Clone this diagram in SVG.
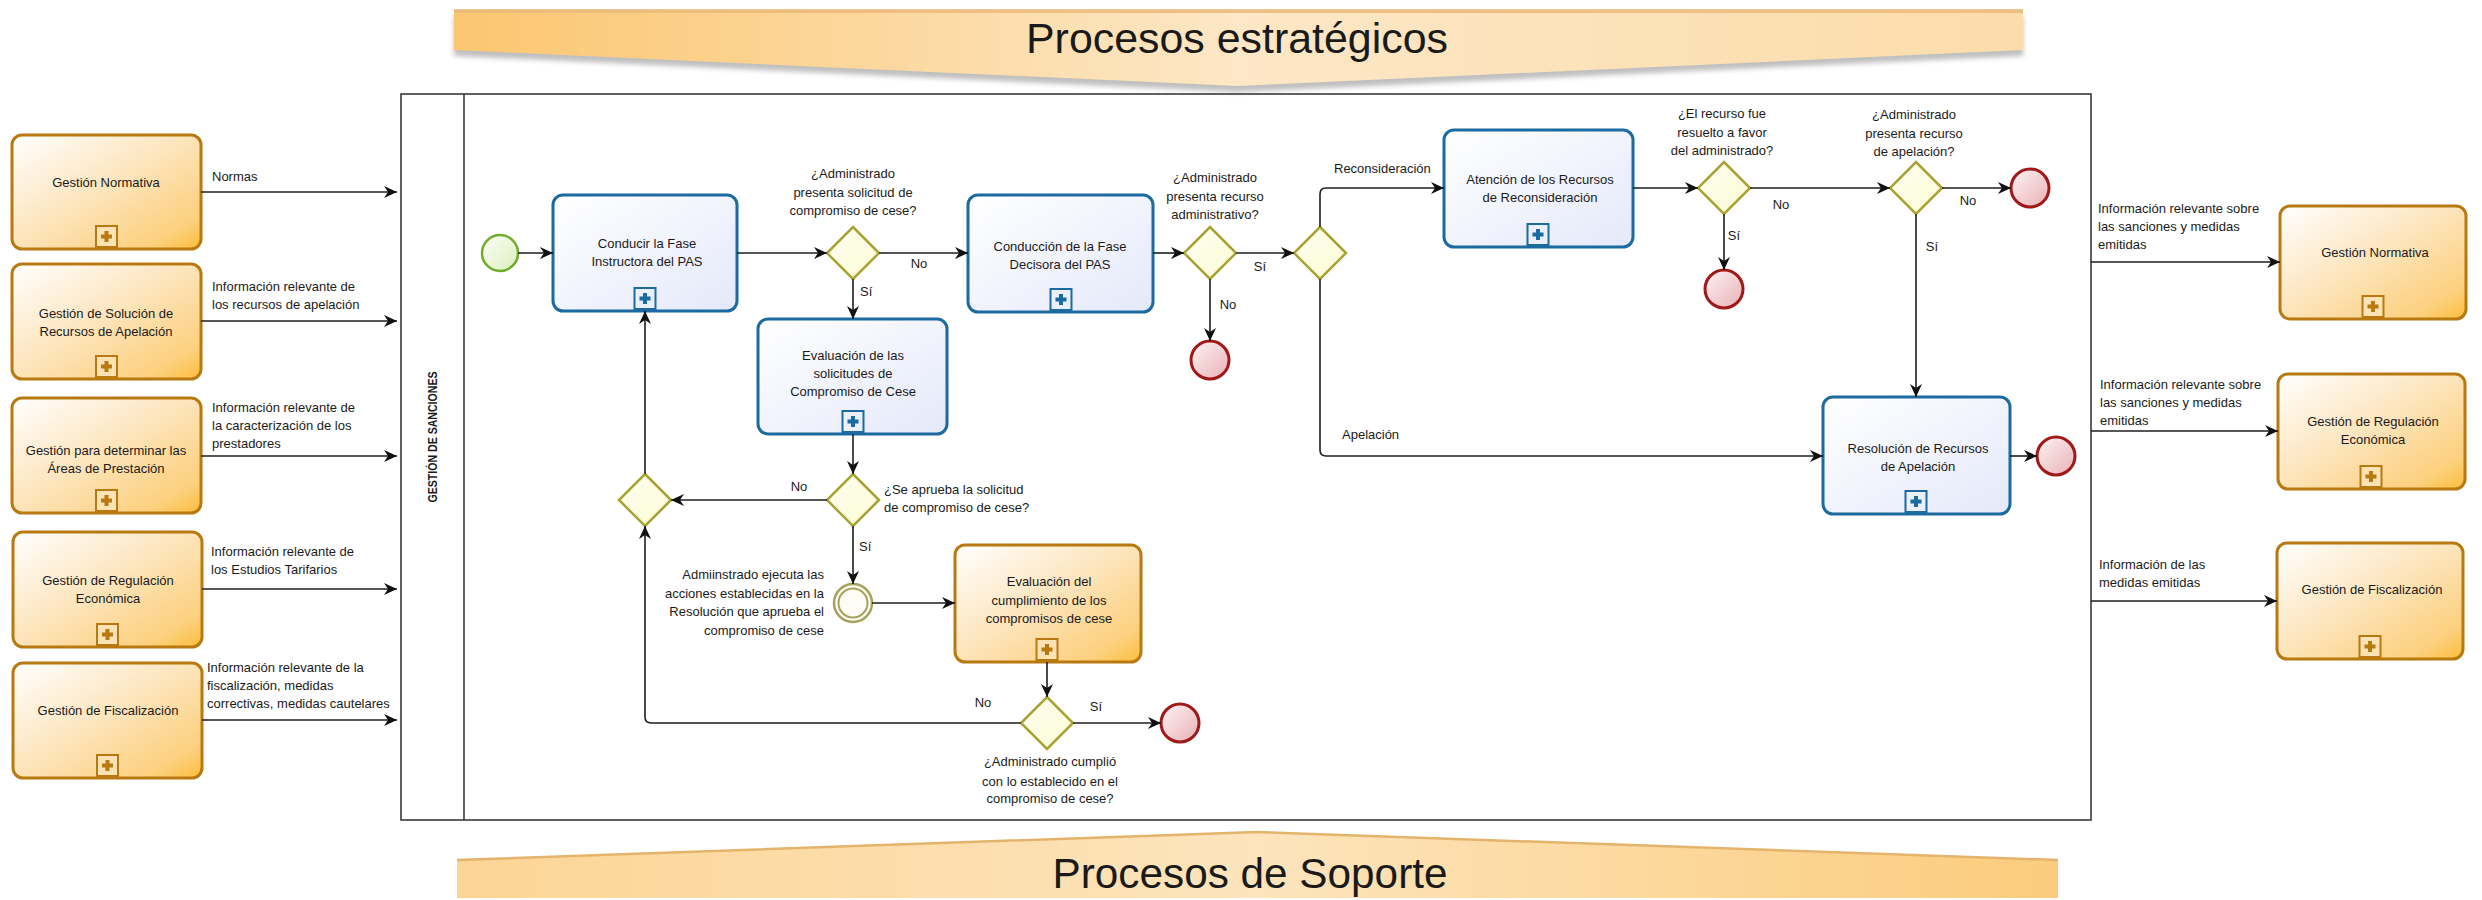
<svg xmlns="http://www.w3.org/2000/svg" width="2482" height="900" viewBox="0 0 2482 900">
<style>
.t{font-family:"Liberation Sans",Arial,sans-serif;font-size:13px;fill:#1a1a1a}
.c{text-anchor:middle}
.r{text-anchor:end}
.ban{font-family:"Liberation Sans",Arial,sans-serif;font-size:42px;fill:#1a1a1a;text-anchor:middle}
.conn{fill:none;stroke:#1e1e1e;stroke-width:1.6;marker-end:url(#arr)}
.to{fill:url(#gO);stroke:#b87a10;stroke-width:3}
.tb{fill:url(#gB);stroke:#1b6aa0;stroke-width:3}
.gw{fill:url(#gG);stroke:#a8a332;stroke-width:2.5}
.ee{fill:url(#gE);stroke:#a01818;stroke-width:3}
.pool{fill:none;stroke:#3a3a3a;stroke-width:1.6}
</style>
<defs>
<marker id="arr" markerUnits="userSpaceOnUse" markerWidth="14" markerHeight="14" refX="13" refY="7" orient="auto">
<path d="M0,1 L13,7 L0,13 L4,7 z" fill="#111"/>
</marker>
<linearGradient id="gO" x1="0" y1="0" x2="1" y2="1">
<stop offset="0" stop-color="#ffffff"/><stop offset="0.45" stop-color="#fde6c0"/><stop offset="0.85" stop-color="#fcd07e"/><stop offset="1" stop-color="#fbbd3a"/>
</linearGradient>
<linearGradient id="gB" x1="0" y1="0" x2="1" y2="1">
<stop offset="0" stop-color="#ffffff"/><stop offset="1" stop-color="#e4e9fa"/>
</linearGradient>
<linearGradient id="gG" x1="0" y1="0" x2="1" y2="1">
<stop offset="0" stop-color="#fefef2"/><stop offset="1" stop-color="#fbfbd4"/>
</linearGradient>
<linearGradient id="gE" x1="0" y1="0" x2="1" y2="1">
<stop offset="0" stop-color="#fdf4f4"/><stop offset="1" stop-color="#e8b0b6"/>
</linearGradient>
<linearGradient id="gS" x1="0" y1="0" x2="1" y2="1">
<stop offset="0" stop-color="#fbfef2"/><stop offset="1" stop-color="#dcefc0"/>
</linearGradient>
<linearGradient id="gBan1" x1="0" y1="0" x2="1" y2="0">
<stop offset="0" stop-color="#fbc670"/><stop offset="0.5" stop-color="#fde7c6"/><stop offset="1" stop-color="#fcdcaa"/>
</linearGradient>
<linearGradient id="gBan2" x1="0" y1="0" x2="1" y2="0">
<stop offset="0" stop-color="#fcd596"/><stop offset="0.5" stop-color="#fde4bc"/><stop offset="1" stop-color="#fbcc7c"/>
</linearGradient>
<filter id="blur" x="-5%" y="-50%" width="110%" height="200%"><feGaussianBlur stdDeviation="2.5"/></filter>
<g id="pO"><rect x="-10.5" y="-21" width="21" height="21" fill="#fde3b4" stroke="#b87a10" stroke-width="2"/><path d="M-5.5,-10.5H5.5M0,-16V-5" stroke="#b87a10" stroke-width="4"/></g>
<g id="pB"><rect x="-10.5" y="-21" width="21" height="21" fill="#e9effb" stroke="#1b6aa0" stroke-width="2"/><path d="M-5.5,-10.5H5.5M0,-16V-5" stroke="#1b6aa0" stroke-width="4"/></g>
</defs>

<rect width="2482" height="900" fill="#ffffff"/>

<g id="banner-top">
<polygon points="454,16 2023,16 2023,56 1238,92 454,56" fill="#8a8a8a" opacity="0.55" filter="url(#blur)"/>
<polygon points="454,10 2023,10 2023,50 1238,86 454,50" fill="url(#gBan1)"/>
<rect x="454" y="9" width="1569" height="4" fill="#e8b878" opacity="0.8"/>
<text class="ban" x="1237" y="53" textLength="422" lengthAdjust="spacingAndGlyphs">Procesos estratégicos</text>
</g>

<g id="banner-bottom">
<polygon points="457,860 1257,832 2058,860 2058,898 457,898" fill="url(#gBan2)"/>
<path d="M457,860 L1257,832 L2058,860" fill="none" stroke="#e4b46c" stroke-width="2.5"/>
<text class="ban" x="1250" y="888" textLength="395" lengthAdjust="spacingAndGlyphs">Procesos de Soporte</text>
</g>

<g id="pool">
<rect class="pool" x="401" y="94" width="1690" height="726"/>
<line class="pool" x1="464" y1="94" x2="464" y2="820"/>
<text transform="translate(437,437) rotate(-90)" text-anchor="middle" font-family="Liberation Sans,Arial,sans-serif" font-size="12" font-weight="bold" fill="#1a1a1a" textLength="131" lengthAdjust="spacingAndGlyphs">GESTIÓN DE SANCIONES</text>
</g>

<g id="left-gestion-normativa">
<rect class="to" x="12" y="135" width="189" height="114" rx="10"/>
<use href="#pO" x="106.5" y="247"/>
<text class="t c" x="106" y="187">Gestión Normativa</text>
</g>
<g id="left-gestion-apelacion">
<rect class="to" x="12" y="264" width="189" height="115" rx="10"/>
<use href="#pO" x="106.5" y="377"/>
<text class="t c" x="106" y="318">Gestión de Solución de</text>
<text class="t c" x="106" y="336">Recursos de Apelación</text>
</g>
<g id="left-gestion-areas">
<rect class="to" x="12" y="398" width="189" height="115" rx="10"/>
<use href="#pO" x="106.5" y="511"/>
<text class="t c" x="106" y="455">Gestión para determinar las</text>
<text class="t c" x="106" y="473">Áreas de Prestación</text>
</g>
<g id="left-gestion-regulacion">
<rect class="to" x="13" y="532" width="189" height="115" rx="10"/>
<use href="#pO" x="107.5" y="645"/>
<text class="t c" x="108" y="585">Gestión de Regulación</text>
<text class="t c" x="108" y="603">Económica</text>
</g>
<g id="left-gestion-fiscalizacion">
<rect class="to" x="13" y="663" width="189" height="115" rx="10"/>
<use href="#pO" x="107.5" y="776"/>
<text class="t c" x="108" y="715">Gestión de Fiscalización</text>
</g>

<g id="start">
<circle cx="500" cy="253" r="18" fill="url(#gS)" stroke="#6fad2c" stroke-width="2.5"/>
</g>
<g id="task-conducir">
<rect class="tb" x="553" y="195" width="184" height="116" rx="10"/>
<use href="#pB" x="645" y="309"/>
<text class="t c" x="647" y="248">Conducir la Fase</text>
<text class="t c" x="647" y="266">Instructora del PAS</text>
</g>
<g id="gw-solicitud">
<polygon class="gw" points="853,227 879,253 853,279 827,253"/>
<text class="t c" x="853" y="178">¿Administrado</text>
<text class="t c" x="853" y="197">presenta solicitud de</text>
<text class="t c" x="853" y="215">compromiso de cese?</text>
</g>
<g id="task-evaluacion-solicitudes">
<rect class="tb" x="758" y="319" width="189" height="115" rx="10"/>
<use href="#pB" x="853" y="432"/>
<text class="t c" x="853" y="360">Evaluación de las</text>
<text class="t c" x="853" y="378">solicitudes de</text>
<text class="t c" x="853" y="396">Compromiso de Cese</text>
</g>
<g id="gw-aprueba">
<polygon class="gw" points="853,474 879,500 853,526 827,500"/>
<text class="t" x="884" y="494">¿Se aprueba la solicitud</text>
<text class="t" x="884" y="512">de compromiso de cese?</text>
</g>
<g id="gw-merge">
<polygon class="gw" points="645,474 671,500 645,526 619,500"/>
</g>
<g id="event-intermedio">
<circle cx="853" cy="603" r="19" fill="#fdfdf6" stroke="#a6a25e" stroke-width="2.5"/>
<circle cx="853" cy="603" r="14.5" fill="none" stroke="#a6a25e" stroke-width="2"/>
<text class="t r" x="824" y="579">Admiinstrado ejecuta las</text>
<text class="t r" x="824" y="598">acciones establecidas en la</text>
<text class="t r" x="824" y="616">Resolución que aprueba el</text>
<text class="t r" x="824" y="635">compromiso de cese</text>
</g>
<g id="task-evaluacion-cumplimiento">
<rect class="to" x="955" y="545" width="186" height="117" rx="10"/>
<use href="#pO" x="1047" y="660"/>
<text class="t c" x="1049" y="586">Evaluación del</text>
<text class="t c" x="1049" y="605">cumplimiento de los</text>
<text class="t c" x="1049" y="623">compromisos de cese</text>
</g>
<g id="gw-cumplio">
<polygon class="gw" points="1047,697 1073,723 1047,749 1021,723"/>
<text class="t c" x="1050" y="766">¿Administrado cumplió</text>
<text class="t c" x="1050" y="786">con lo establecido en el</text>
<text class="t c" x="1050" y="803">compromiso de cese?</text>
</g>
<g id="end-cumplio">
<circle class="ee" cx="1180" cy="723" r="19"/>
</g>
<g id="task-conduccion-decisora">
<rect class="tb" x="968" y="195" width="185" height="117" rx="10"/>
<use href="#pB" x="1061" y="310"/>
<text class="t c" x="1060" y="251">Conducción de la Fase</text>
<text class="t c" x="1060" y="269">Decisora del PAS</text>
</g>
<g id="gw-recurso">
<polygon class="gw" points="1210,227 1236,253 1210,279 1184,253"/>
<text class="t c" x="1215" y="182">¿Administrado</text>
<text class="t c" x="1215" y="201">presenta recurso</text>
<text class="t c" x="1215" y="219">administrativo?</text>
</g>
<g id="end-recurso">
<circle class="ee" cx="1210" cy="360" r="19"/>
</g>
<g id="gw-tipo">
<polygon class="gw" points="1320,227 1346,253 1320,279 1294,253"/>
</g>
<g id="task-atencion">
<rect class="tb" x="1444" y="130" width="189" height="117" rx="10"/>
<use href="#pB" x="1538" y="245"/>
<text class="t c" x="1540" y="184">Atención de los Recursos</text>
<text class="t c" x="1540" y="202">de Reconsideración</text>
</g>
<g id="gw-favor">
<polygon class="gw" points="1724,162 1750,188 1724,214 1698,188"/>
<text class="t c" x="1722" y="118">¿El recurso fue</text>
<text class="t c" x="1722" y="137">resuelto a favor</text>
<text class="t c" x="1722" y="155">del administrado?</text>
</g>
<g id="end-favor">
<circle class="ee" cx="1724" cy="289" r="19"/>
</g>
<g id="gw-apelacion">
<polygon class="gw" points="1916,162 1942,188 1916,214 1890,188"/>
<text class="t c" x="1914" y="119">¿Administrado</text>
<text class="t c" x="1914" y="138">presenta recurso</text>
<text class="t c" x="1914" y="156">de apelación?</text>
</g>
<g id="end-apelacion">
<circle class="ee" cx="2030" cy="188" r="19"/>
</g>
<g id="task-resolucion">
<rect class="tb" x="1823" y="397" width="187" height="117" rx="10"/>
<use href="#pB" x="1916" y="512"/>
<text class="t c" x="1918" y="453">Resolución de Recursos</text>
<text class="t c" x="1918" y="471">de Apelación</text>
</g>
<g id="end-resolucion">
<circle class="ee" cx="2056" cy="456" r="19"/>
</g>

<g id="right-gestion-normativa">
<rect class="to" x="2280" y="206" width="186" height="113" rx="10"/>
<use href="#pO" x="2373" y="317"/>
<text class="t c" x="2375" y="257">Gestión Normativa</text>
</g>
<g id="right-gestion-regulacion">
<rect class="to" x="2278" y="374" width="187" height="115" rx="10"/>
<use href="#pO" x="2371" y="487"/>
<text class="t c" x="2373" y="426">Gestión de Regulación</text>
<text class="t c" x="2373" y="444">Económica</text>
</g>
<g id="right-gestion-fiscalizacion">
<rect class="to" x="2277" y="543" width="186" height="116" rx="10"/>
<use href="#pO" x="2370" y="657"/>
<text class="t c" x="2372" y="594">Gestión de Fiscalización</text>
</g>

<g id="connectors">
<path class="conn" d="M201,192 H397"/>
<path class="conn" d="M201,321 H397"/>
<path class="conn" d="M201,456 H397"/>
<path class="conn" d="M202,589 H397"/>
<path class="conn" d="M202,720 H397"/>
<path class="conn" d="M518,253 H553"/>
<path class="conn" d="M737,253 H827"/>
<path class="conn" d="M879,253 H968"/>
<path class="conn" d="M853,279 V319"/>
<path class="conn" d="M853,434 V474"/>
<path class="conn" d="M827,500 H671"/>
<path class="conn" d="M853,526 V584"/>
<path class="conn" d="M872,603 H955"/>
<path class="conn" d="M1047,662 V697"/>
<path class="conn" d="M1073,723 H1161"/>
<path class="conn" d="M1021,723 H651 Q645,723 645,717 V526"/>
<path class="conn" d="M645,474 V311"/>
<path class="conn" d="M1153,253 H1184"/>
<path class="conn" d="M1210,279 V341"/>
<path class="conn" d="M1236,253 H1294"/>
<path class="conn" d="M1320,227 V194 Q1320,188 1326,188 H1444"/>
<path class="conn" d="M1320,279 V450 Q1320,456 1326,456 H1823"/>
<path class="conn" d="M1633,188 H1698"/>
<path class="conn" d="M1724,214 V270"/>
<path class="conn" d="M1750,188 H1890"/>
<path class="conn" d="M1942,188 H2011"/>
<path class="conn" d="M1916,214 V397"/>
<path class="conn" d="M2010,456 H2037"/>
<path class="conn" d="M2091,262 H2280"/>
<path class="conn" d="M2091,431 H2278"/>
<path class="conn" d="M2091,601 H2277"/>
<text class="t" x="212" y="181">Normas</text>
<text class="t" x="212" y="291">Información relevante de</text>
<text class="t" x="212" y="309">los recursos de apelación</text>
<text class="t" x="212" y="412">Información relevante de</text>
<text class="t" x="212" y="430">la caracterización de los</text>
<text class="t" x="212" y="448">prestadores</text>
<text class="t" x="211" y="556">Información relevante de</text>
<text class="t" x="211" y="574">los Estudios Tarifarios</text>
<text class="t" x="207" y="672">Información relevante de la</text>
<text class="t" x="207" y="690">fiscalización, medidas</text>
<text class="t" x="207" y="708">correctivas, medidas cautelares</text>
<text class="t c" x="919" y="268">No</text>
<text class="t" x="860" y="296">Sí</text>
<text class="t c" x="799" y="491">No</text>
<text class="t" x="859" y="551">Sí</text>
<text class="t c" x="983" y="707">No</text>
<text class="t c" x="1096" y="711">Sí</text>
<text class="t c" x="1228" y="309">No</text>
<text class="t c" x="1260" y="271">Sí</text>
<text class="t" x="1334" y="173">Reconsideración</text>
<text class="t" x="1342" y="439">Apelación</text>
<text class="t c" x="1781" y="209">No</text>
<text class="t c" x="1734" y="240">Sí</text>
<text class="t c" x="1968" y="205">No</text>
<text class="t c" x="1932" y="251">Sí</text>
<text class="t" x="2098" y="213">Información relevante sobre</text>
<text class="t" x="2098" y="231">las sanciones y medidas</text>
<text class="t" x="2098" y="249">emitidas</text>
<text class="t" x="2100" y="389">Información relevante sobre</text>
<text class="t" x="2100" y="407">las sanciones y medidas</text>
<text class="t" x="2100" y="425">emitidas</text>
<text class="t" x="2099" y="569">Información de las</text>
<text class="t" x="2099" y="587">medidas emitidas</text>
</g>
</svg>
